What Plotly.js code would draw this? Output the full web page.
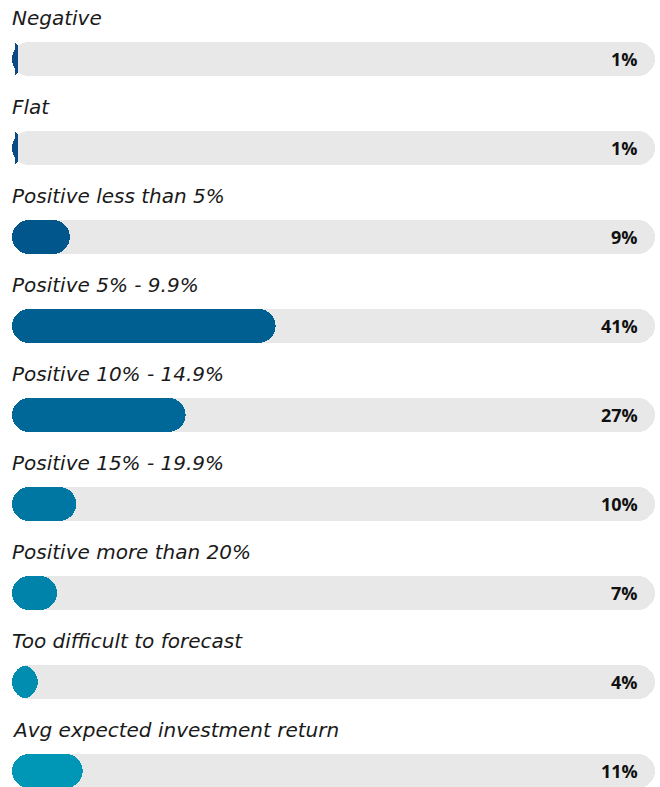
<!DOCTYPE html>
<html>
<head>
<meta charset="utf-8">
<script src="https://cdn.plot.ly/plotly-3.0.1.min.js"></script>
<style>html,body{margin:0;padding:0;background:#fff;}#chart{width:660px;height:787px;}</style>
</head>
<body>
<div id="chart"></div>
<script>
const categories = [
  "Negative",
  "Flat",
  "Positive less than 5%",
  "Positive 5% - 9.9%",
  "Positive 10% - 14.9%",
  "Positive 15% - 19.9%",
  "Positive more than 20%",
  "Too difficult to forecast",
  "Avg expected investment return"
];
const values = [1, 1, 9, 41, 27, 10, 7, 4, 11];
const valueLabels = ["1%", "1%", "9%", "41%", "27%", "10%", "7%", "4%", "11%"];
const trackMax = 100;
const barColors = ["#0b4a82", "#0b4a82", "#01568b", "#005f91", "#006899", "#0076a2", "#0083aa", "#008daf", "#0096b6"];

const rows = categories.map((c, i) => i);
const barWidth = 34 / 89;
const radius = 17;
const clear = "rgba(0,0,0,0)";

const common = {type: "bar", orientation: "h", y: rows, width: barWidth, hoverinfo: "skip", showlegend: false};

// A pill from 0 to v is drawn as two halves, each rounded at its outer tip:
//  - right half on a normal axis: transparent spacer v/2, then v/2 stacked (tip at v)
//  - left half on a reversed axis: transparent spacer max - v/2, then v/2 stacked (tip at 0)
function pill(vals, color, axR, axL) {
  const half = vals.map(v => v / 2);
  return [
    Object.assign({}, common, {x: half, xaxis: axR, marker: {color: clear}}),
    Object.assign({}, common, {x: half, xaxis: axR, marker: {color: color, cornerradius: radius}}),
    Object.assign({}, common, {x: vals.map(v => trackMax - v / 2), xaxis: axL, marker: {color: clear}}),
    Object.assign({}, common, {x: half, xaxis: axL, marker: {color: color, cornerradius: radius}})
  ];
}

const traces = [].concat(
  pill(categories.map(() => trackMax), "#e8e8e8", "x", "x2"),
  pill(values, barColors, "x3", "x4")
);

const labelFont = {family: "'DejaVu Sans', sans-serif", size: 20, style: "italic", weight: 200, color: "#1a1a1a"};
const valueFont = {family: "'Open Sans', sans-serif", size: 18, color: "#111"};

const annotations = [];
categories.forEach((c, i) => {
  annotations.push({
    x: 0, y: i - 0.46, xref: "x", yref: "y",
    text: c, showarrow: false, xanchor: "left", yanchor: "middle", xshift: -2,
    font: labelFont
  });
  annotations.push({
    x: trackMax, y: i, xref: "x", yref: "y",
    text: "<b>" + valueLabels[i] + "</b>", showarrow: false, xanchor: "right", yanchor: "middle", xshift: -15,
    font: valueFont
  });
});

const hiddenX = {visible: false, fixedrange: true};
const layout = {
  width: 660, height: 787,
  margin: {l: 12, r: 5, t: 0, b: 0},
  paper_bgcolor: "#fff", plot_bgcolor: "#fff",
  barmode: "stack",
  xaxis: Object.assign({range: [0, trackMax]}, hiddenX),
  xaxis2: Object.assign({range: [trackMax, 0], overlaying: "x"}, hiddenX),
  xaxis3: Object.assign({range: [0, trackMax], overlaying: "x"}, hiddenX),
  xaxis4: Object.assign({range: [trackMax, 0], overlaying: "x"}, hiddenX),
  yaxis: {range: [8 + 16/89, -59/89], visible: false, fixedrange: true},
  annotations: annotations,
  showlegend: false
};

Plotly.newPlot("chart", traces, layout, {displayModeBar: false, staticPlot: true});
</script>
</body>
</html>
